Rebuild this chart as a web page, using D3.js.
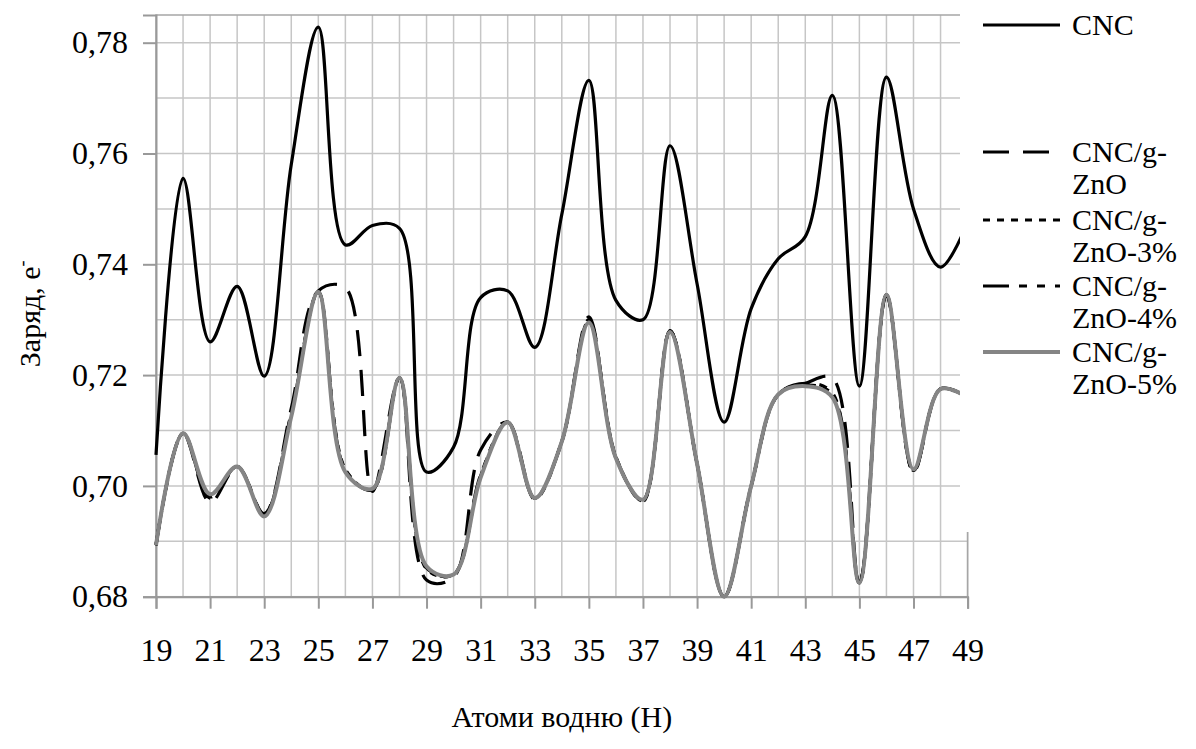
<!DOCTYPE html>
<html>
<head>
<meta charset="utf-8">
<script src="https://cdn.jsdelivr.net/npm/d3@7"></script>
<style>
  html, body { margin: 0; background: #fff; font-family: 'Liberation Serif', 'Times New Roman', Tinos; }
  svg { display: block; }
</style>
</head>
<body>
<svg id="chart" width="1196" height="749"></svg>
<script>
// Hydrogen atom numbers along the x axis
const atoms = [19, 20, 21, 22, 23, 24, 25, 26, 27, 28, 29, 30, 31, 32, 33, 34,
               35, 36, 37, 38, 39, 40, 41, 42, 43, 44, 45, 46, 47, 48, 49];
const xTickValues = [19, 21, 23, 25, 27, 29, 31, 33, 35, 37, 39, 41, 43, 45, 47, 49];
const yTickValues = [0.68, 0.70, 0.72, 0.74, 0.76, 0.78];
const yTickLabels = ["0,68", "0,70", "0,72", "0,74", "0,76", "0,78"];

const seriesNames = ["CNC", "CNC/g-ZnO", "CNC/g-ZnO-3%", "CNC/g-ZnO-4%", "CNC/g-ZnO-5%"];

// Charge on each hydrogen atom, e
const cnc = [0.7056, 0.7555, 0.7260, 0.7360, 0.7198, 0.7580, 0.7828, 0.7435, 0.7470, 0.7465,
             0.7025, 0.7070, 0.7340, 0.7352, 0.7250, 0.7490, 0.7732, 0.7335, 0.7300, 0.7614,
             0.7365, 0.7115, 0.7320, 0.7410, 0.7450, 0.7705, 0.7180, 0.7738, 0.7500, 0.7395, 0.7475];
const cncZnO = [0.6893, 0.7095, 0.6970, 0.7035, 0.6950, 0.7140, 0.7352, 0.7358, 0.6990, 0.7195,
                0.6830, 0.6835, 0.7065, 0.7115, 0.6978, 0.7080, 0.7305, 0.7050, 0.6975, 0.7280,
                0.7040, 0.6800, 0.7000, 0.7165, 0.7185, 0.7195, 0.6825, 0.7345, 0.7025, 0.7175, 0.7160];
const cncZnO3 = [0.6893, 0.7095, 0.6980, 0.7035, 0.6948, 0.7130, 0.7350, 0.7030, 0.6993, 0.7195,
                 0.6850, 0.6840, 0.7018, 0.7115, 0.6978, 0.7080, 0.7298, 0.7052, 0.6973, 0.7280,
                 0.7040, 0.6800, 0.7000, 0.7165, 0.7182, 0.7165, 0.6825, 0.7345, 0.7028, 0.7175, 0.7160];
const cncZnO4 = [0.6893, 0.7095, 0.6978, 0.7035, 0.6948, 0.7132, 0.7350, 0.7028, 0.6993, 0.7195,
                 0.6852, 0.6840, 0.7020, 0.7115, 0.6976, 0.7080, 0.7300, 0.7052, 0.6972, 0.7280,
                 0.7040, 0.6800, 0.7000, 0.7165, 0.7185, 0.7168, 0.6825, 0.7345, 0.7026, 0.7175, 0.7160];
const cncZnO5 = [0.6893, 0.7095, 0.6985, 0.7035, 0.6945, 0.7125, 0.7350, 0.7025, 0.6995, 0.7195,
                 0.6855, 0.6840, 0.7015, 0.7115, 0.6978, 0.7080, 0.7295, 0.7050, 0.6975, 0.7278,
                 0.7040, 0.6800, 0.7000, 0.7165, 0.7180, 0.7160, 0.6825, 0.7345, 0.7030, 0.7175, 0.7160];

const seriesValues = [cnc, cncZnO, cncZnO3, cncZnO4, cncZnO5];
const seriesStyles = [
  { color: "#000", width: 3.2, dash: null },
  { color: "#000", width: 3.2, dash: "26,14" },
  { color: "#000", width: 3.2, dash: "7,7" },
  { color: "#000", width: 3.2, dash: "26,10,8,10,8,10" },
  { color: "#858585", width: 4, dash: null }
];

const plot = { left: 156, right: 967.6, top: 15, bottom: 596.7 };
const svg = d3.select("#chart");

const x = d3.scaleLinear().domain([19, 49]).range([plot.left, plot.right]);
const y = d3.scaleLinear().domain([0.68, 0.785]).range([plot.bottom, plot.top]);

// grid
const grid = svg.append("g").attr("stroke", "#c6c6c6").attr("stroke-width", 1.5);
grid.selectAll("line.h")
  .data([0.69, 0.70, 0.71, 0.72, 0.73, 0.74, 0.75, 0.76, 0.77, 0.78])
  .join("line")
  .attr("x1", plot.left).attr("x2", plot.right)
  .attr("y1", d => y(d)).attr("y2", d => y(d));
grid.selectAll("line.v")
  .data(atoms.slice(1))
  .join("line")
  .attr("x1", d => x(d)).attr("x2", d => x(d))
  .attr("y1", plot.top).attr("y2", plot.bottom);

// plot frame
svg.append("rect")
  .attr("x", plot.left).attr("y", plot.top)
  .attr("width", plot.right - plot.left).attr("height", plot.bottom - plot.top)
  .attr("fill", "none").attr("stroke", "#a6a6a6").attr("stroke-width", 1.5);

// axes
const yAxis = svg.append("g")
  .attr("transform", `translate(${plot.left},0)`)
  .call(d3.axisLeft(y).tickValues(yTickValues).tickSize(13).tickPadding(15)
        .tickFormat((d, i) => yTickLabels[i]));
const xAxis = svg.append("g")
  .attr("transform", `translate(0,${plot.bottom})`)
  .call(d3.axisBottom(x).tickValues(xTickValues).tickSize(12).tickPadding(30)
        .tickFormat(d => String(d)));
[yAxis, xAxis].forEach(ax => {
  ax.attr("font-family", null).attr("font-size", 32);
  ax.selectAll("path.domain").attr("stroke", "#999").attr("stroke-width", 2);
  ax.selectAll(".tick line").attr("stroke", "#999").attr("stroke-width", 2);
  ax.selectAll("text").attr("fill", "#000");
});

// series
const line = d3.line()
  .x((d, i) => x(atoms[i]))
  .y(d => y(d))
  .curve(d3.curveCatmullRom.alpha(0.5));

svg.append("g").selectAll("path")
  .data(seriesValues)
  .join("path")
  .attr("d", d => line(d))
  .attr("fill", "none")
  .attr("stroke", (d, i) => seriesStyles[i].color)
  .attr("stroke-width", (d, i) => seriesStyles[i].width)
  .attr("stroke-dasharray", (d, i) => seriesStyles[i].dash)
  .attr("stroke-linejoin", "round");

// axis titles
svg.append("text")
  .attr("x", (plot.left + plot.right) / 2).attr("y", 727)
  .attr("text-anchor", "middle").attr("font-size", 30)
  .text("Атоми водню (Н)");

const yTitle = svg.append("text")
  .attr("transform", `translate(40,${(plot.top + plot.bottom) / 2 + 8}) rotate(-90)`)
  .attr("text-anchor", "middle").attr("font-size", 30);
yTitle.append("tspan").text("Заряд, е");
yTitle.append("tspan").attr("font-size", 18).attr("dy", -12).text("-");

// legend
const legend = svg.append("g");
legend.append("rect")
  .attr("x", 960).attr("y", 0).attr("width", 236).attr("height", 532)
  .attr("fill", "#fff");
const legendRows = [
  { cy: 25, lines: ["CNC"] },
  { cy: 152, lines: ["CNC/g-", "ZnO"] },
  { cy: 220, lines: ["CNC/g-", "ZnO-3%"] },
  { cy: 286, lines: ["CNC/g-", "ZnO-4%"] },
  { cy: 352, lines: ["CNC/g-", "ZnO-5%"] }
];
const items = legend.selectAll("g.item")
  .data(seriesNames)
  .join("g").attr("class", "item");
items.append("line")
  .attr("x1", 983).attr("x2", 1060)
  .attr("y1", (d, i) => legendRows[i].cy).attr("y2", (d, i) => legendRows[i].cy)
  .attr("stroke", (d, i) => seriesStyles[i].color)
  .attr("stroke-width", (d, i) => seriesStyles[i].width)
  .attr("stroke-dasharray", (d, i) => seriesStyles[i].dash);
items.append("text")
  .attr("x", 1072)
  .attr("y", (d, i) => legendRows[i].cy + 10)
  .attr("font-size", 30)
  .selectAll("tspan")
  .data((d, i) => legendRows[i].lines)
  .join("tspan")
  .attr("x", 1072)
  .attr("dy", (d, j) => j === 0 ? 0 : 32)
  .text(d => d);
</script>
</body>
</html>
